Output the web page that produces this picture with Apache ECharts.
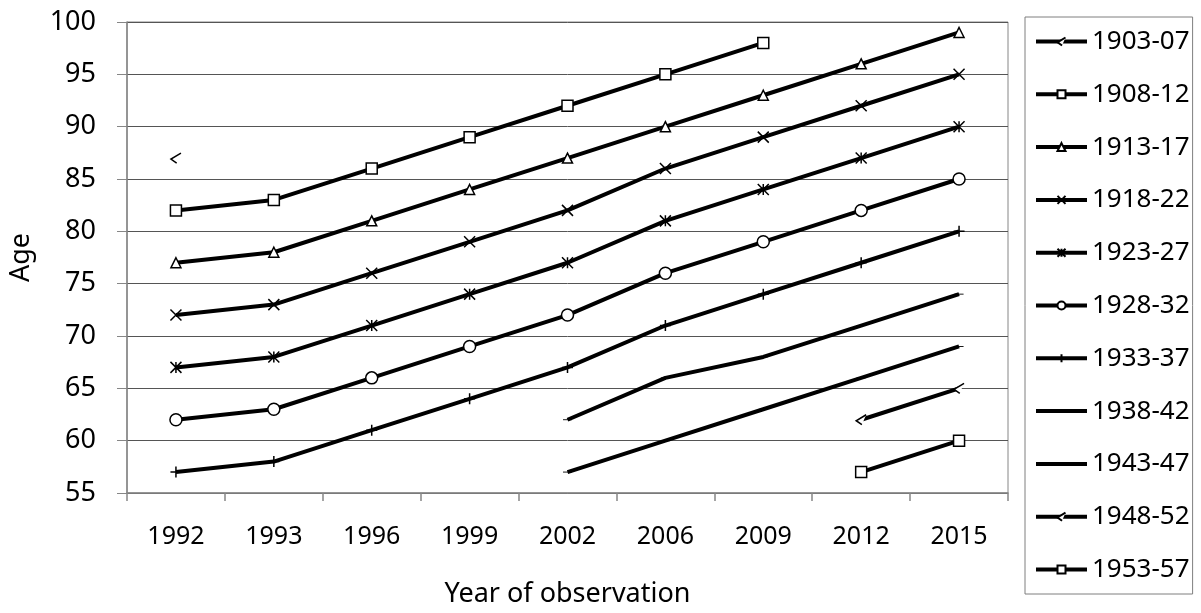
<!DOCTYPE html>
<html>
<head>
<meta charset="utf-8">
<script src="https://cdn.jsdelivr.net/npm/echarts@6/dist/echarts.min.js"></script>
<style>
html,body{margin:0;padding:0;background:#fff;}
#main{width:1201px;height:613px;}
</style>
</head>
<body>
<div id="main"></div>
<script>
const years = ['1992','1993','1996','1999','2002','2006','2009','2012','2015'];
const yTicks = [55, 60, 65, 70, 75, 80, 85, 90, 95, 100];
const cohorts = ['1903-07','1908-12','1913-17','1918-22','1923-27','1928-32','1933-37','1938-42','1943-47','1948-52','1953-57'];
const c1903 = [87, null, null, null, null, null, null, null, null];
const c1908 = [82, 83, 86, 89, 92, 95, 98, null, null];
const c1913 = [77, 78, 81, 84, 87, 90, 93, 96, 99];
const c1918 = [72, 73, 76, 79, 82, 86, 89, 92, 95];
const c1923 = [67, 68, 71, 74, 77, 81, 84, 87, 90];
const c1928 = [62, 63, 66, 69, 72, 76, 79, 82, 85];
const c1933 = [57, 58, 61, 64, 67, 71, 74, 77, 80];
const c1938 = [null, null, null, null, 62, 66, 68, 71, 74];
const c1943 = [null, null, null, null, 57, 60, 63, 66, 69];
const c1948 = [null, null, null, null, null, null, null, 62, 65];
const c1953 = [null, null, null, null, null, null, null, 57, 60];
const values = [c1903, c1908, c1913, c1918, c1923, c1928, c1933, c1938, c1943, c1948, c1953];

const FONT = 'Noto Sans';
const markers = [
  {symbol: 'path://M7,0L0,6L4,10', size: 10},
  {symbol: 'rect', size: 11},
  {symbol: 'triangle', size: 10},
  {symbol: 'path://M0,0L10,10M10,0L0,10', size: 11},
  {symbol: 'path://M0,0L10,10M10,0L0,10M5,0L5,10', size: 11},
  {symbol: 'circle', size: 12},
  {symbol: 'path://M0,5L10,5M5,0L5,10', size: 11},
  {symbol: 'path://M0,0L10,0L10,3L0,3Z', size: [9, 3], dash: true},
  {symbol: 'path://M0,0L10,0L10,3L0,3Z', size: [9, 3], dash: true},
  {symbol: 'path://M7,0L0,6L4,10', size: 10},
  {symbol: 'rect', size: 11}
];

const series = cohorts.map((name, i) => ({
  name: name,
  type: 'line',
  data: values[i].map(v => v === null ? '-' : v),
  connectNulls: false,
  symbol: markers[i].symbol,
  symbolSize: markers[i].size,
  symbolKeepAspect: !!markers[i].dash,
  showSymbol: true,
  showAllSymbol: true,
  lineStyle: {color: '#000', width: 4},
  itemStyle: markers[i].dash ? {color: '#000', borderColor: '#000', borderWidth: 0}
                             : {color: '#fff', borderColor: '#000', borderWidth: 1.5},
  emphasis: {disabled: true},
  animation: false,
  z: 3
}));

const legendData = cohorts.map((name, i) => markers[i].dash
  ? {name: name, itemStyle: {opacity: 0}}
  : {name: name});

const chart = echarts.init(document.getElementById('main'), null, {renderer: 'canvas'});
chart.setOption({
  backgroundColor: '#fff',
  animation: false,
  grid: {left: 127, right: 193, top: 22, bottom: 116, show: true, borderColor: '#868686', borderWidth: 1},
  legend: {
    orient: 'vertical',
    left: 1025, top: 17,
    data: legendData,
    itemWidth: 51, itemHeight: 10, itemGap: 25.8,
    padding: [11, 3, 11, 9],
    borderColor: '#7f7f7f', borderWidth: 1,
    lineStyle: {width: 4, color: '#000'},
    textStyle: {fontFamily: FONT, fontSize: 26, color: '#000', lineHeight: 27},
    selectedMode: false
  },
  xAxis: {
    type: 'category',
    data: years,
    boundaryGap: true,
    name: 'Year of observation',
    nameLocation: 'middle',
    nameGap: 88,
    nameTextStyle: {fontFamily: FONT, fontSize: 27, color: '#000'},
    axisLine: {show: true, lineStyle: {color: '#868686', width: 1.5}},
    axisTick: {show: true, length: 8, alignWithLabel: false, lineStyle: {color: '#868686', width: 1.5}},
    axisLabel: {fontFamily: FONT, fontSize: 25, color: '#000', margin: 31, interval: 0},
    splitLine: {show: false}
  },
  yAxis: {
    type: 'value',
    min: yTicks[0], max: yTicks[yTicks.length - 1], interval: 5,
    name: 'Age',
    nameLocation: 'middle',
    nameGap: 92,
    nameTextStyle: {fontFamily: FONT, fontSize: 27, color: '#000'},
    axisLine: {show: true, lineStyle: {color: '#868686', width: 1.5}},
    axisTick: {show: true, length: 10, lineStyle: {color: '#868686', width: 1}},
    axisLabel: {fontFamily: FONT, fontSize: 27, color: '#000', margin: 31},
    splitLine: {show: true, lineStyle: {color: '#555', width: 1}}
  },
  series: series
});
</script>
</body>
</html>
